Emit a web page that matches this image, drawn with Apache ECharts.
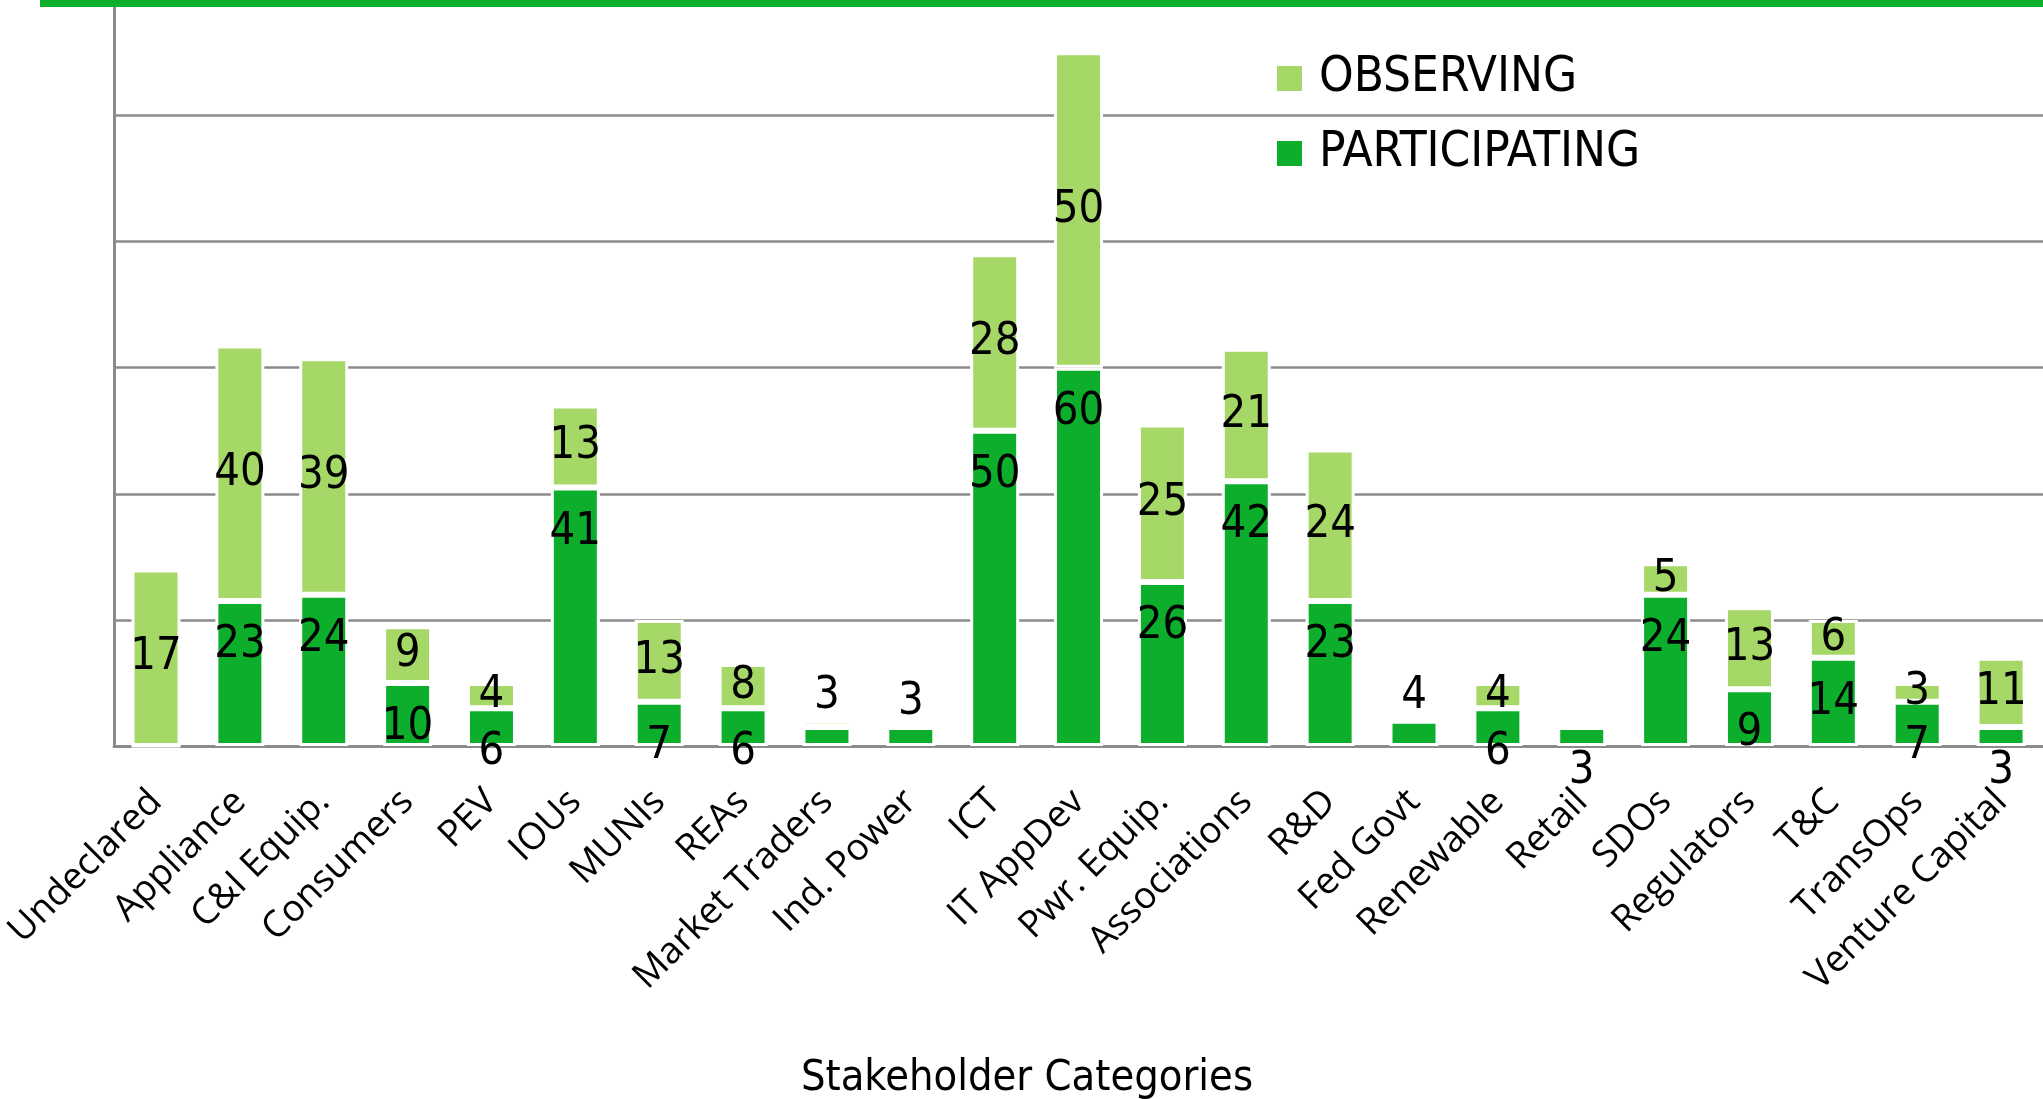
<!DOCTYPE html>
<html>
<head>
<meta charset="utf-8">
<title>Stakeholder Categories</title>
<script src="https://cdn.jsdelivr.net/npm/echarts@6/dist/echarts.min.js"></script>
<style>
    html, body { margin: 0; padding: 0; background: #fff; }
    #chart { width: 2043px; height: 1099px; }
</style>
</head>
<body>
<div id="chart"></div>
<script>
// categories along the x axis
var categories = ['Undeclared', 'Appliance', 'C&I Equip.', 'Consumers', 'PEV', 'IOUs', 'MUNIs', 'REAs',
    'Market Traders', 'Ind. Power', 'ICT', 'IT AppDev', 'Pwr. Equip.', 'Associations', 'R&D', 'Fed Govt',
    'Renewable', 'Retail', 'SDOs', 'Regulators', 'T&C', 'TransOps', 'Venture Capital'];

// bar heights as drawn
var participating = [0, 23, 24, 10, 6, 41, 7, 6, 3, 3, 50, 60, 26, 42, 23, 4, 6, 3, 24, 9, 14, 7, 3];
var observing = [28, 40.5, 37.5, 9, 4, 13, 13, 7, 1, 0, 28, 50, 25, 21, 24, 0, 4, 0, 5, 13, 6, 3, 11];

// numbers printed on the bars
var participatingLabels = ['', '23', '24', '10', '6', '41', '7', '6', '', '3', '50', '60', '26', '42', '23', '4',
    '6', '3', '24', '9', '14', '7', '3'];
var observingLabels = ['17', '40', '39', '9', '4', '13', '13', '8', '3', '', '28', '50', '25', '21', '24', '',
    '4', '', '5', '13', '6', '3', '11'];

// these categories carry their number above the bar
var labelAbove = ['Market Traders', 'Ind. Power', 'Fed Govt'];

var narrowFont = '"Liberation Sans Narrow", "DejaVu Sans Condensed", sans-serif';
var darkGreen = '#0dae2c';
var lightGreen = '#a6d868';

function buildItems(values, labels) {
    return values.map(function (v, i) {
        var item = { value: v };
        if (labelAbove.indexOf(categories[i]) >= 0 && labels[i] !== '') {
            item.label = { position: 'top', distance: 2, offset: [0, 0] };
        }
        return item;
    });
}

var chart = echarts.init(document.getElementById('chart'));
var option = {
    animation: false,
    backgroundColor: '#fff',
    grid: {
        left: 111,
        right: 0,
        top: 0,
        bottom: 353
    },
    legend: {
        orient: 'vertical',
        left: 1270,
        top: 49,
        itemWidth: 27,
        itemHeight: 27,
        itemGap: 26,
        icon: 'rect',
        data: ['OBSERVING', 'PARTICIPATING'],
        textStyle: {
            fontFamily: narrowFont,
            fontSize: 49,
            color: '#000',
            padding: [0, 0, 0, 11]
        }
    },
    xAxis: {
        type: 'category',
        data: categories,
        axisLine: { lineStyle: { color: '#8b8b8b', width: 3 } },
        axisTick: { show: false },
        axisLabel: {
            rotate: 45,
            interval: 0,
            margin: 50,
            fontFamily: '"Open Sans", "Noto Sans", sans-serif',
            fontSize: 37,
            color: '#000'
        }
    },
    yAxis: {
        type: 'value',
        min: 0,
        max: 118.3,
        interval: 20,
        axisLine: { show: true, lineStyle: { color: '#8b8b8b', width: 3 } },
        axisTick: { show: false },
        axisLabel: { show: false },
        splitLine: { lineStyle: { color: '#8b8b8b', width: 2.5 } }
    },
    graphic: [
        {
            type: 'rect',
            left: 40,
            top: 0,
            shape: { width: 2003, height: 7 },
            style: { fill: darkGreen },
            z: 100
        },
        {
            type: 'text',
            x: 1027,
            y: 1079,
            style: {
                text: 'Stakeholder Categories',
                fontFamily: narrowFont,
                fontSize: 43,
                fill: '#000',
                textAlign: 'center',
                textVerticalAlign: 'middle'
            }
        }
    ],
    series: [
        {
            name: 'PARTICIPATING',
            type: 'bar',
            stack: 'total',
            barWidth: 49,
            itemStyle: { color: darkGreen, borderColor: '#fff', borderWidth: 3 },
            label: {
                show: true,
                position: 'insideTop',
                distance: 0,
                offset: [0, 22],
                fontFamily: narrowFont,
                fontSize: 45,
                color: '#000',
                formatter: function (p) { return participatingLabels[p.dataIndex]; }
            },
            data: buildItems(participating, participatingLabels)
        },
        {
            name: 'OBSERVING',
            type: 'bar',
            stack: 'total',
            barWidth: 49,
            itemStyle: { color: lightGreen, borderColor: '#fff', borderWidth: 3 },
            label: {
                show: true,
                position: 'inside',
                fontFamily: narrowFont,
                fontSize: 45,
                color: '#000',
                formatter: function (p) { return observingLabels[p.dataIndex]; }
            },
            data: buildItems(observing, observingLabels)
        }
    ]
};
chart.setOption(option);
</script>
</body>
</html>
